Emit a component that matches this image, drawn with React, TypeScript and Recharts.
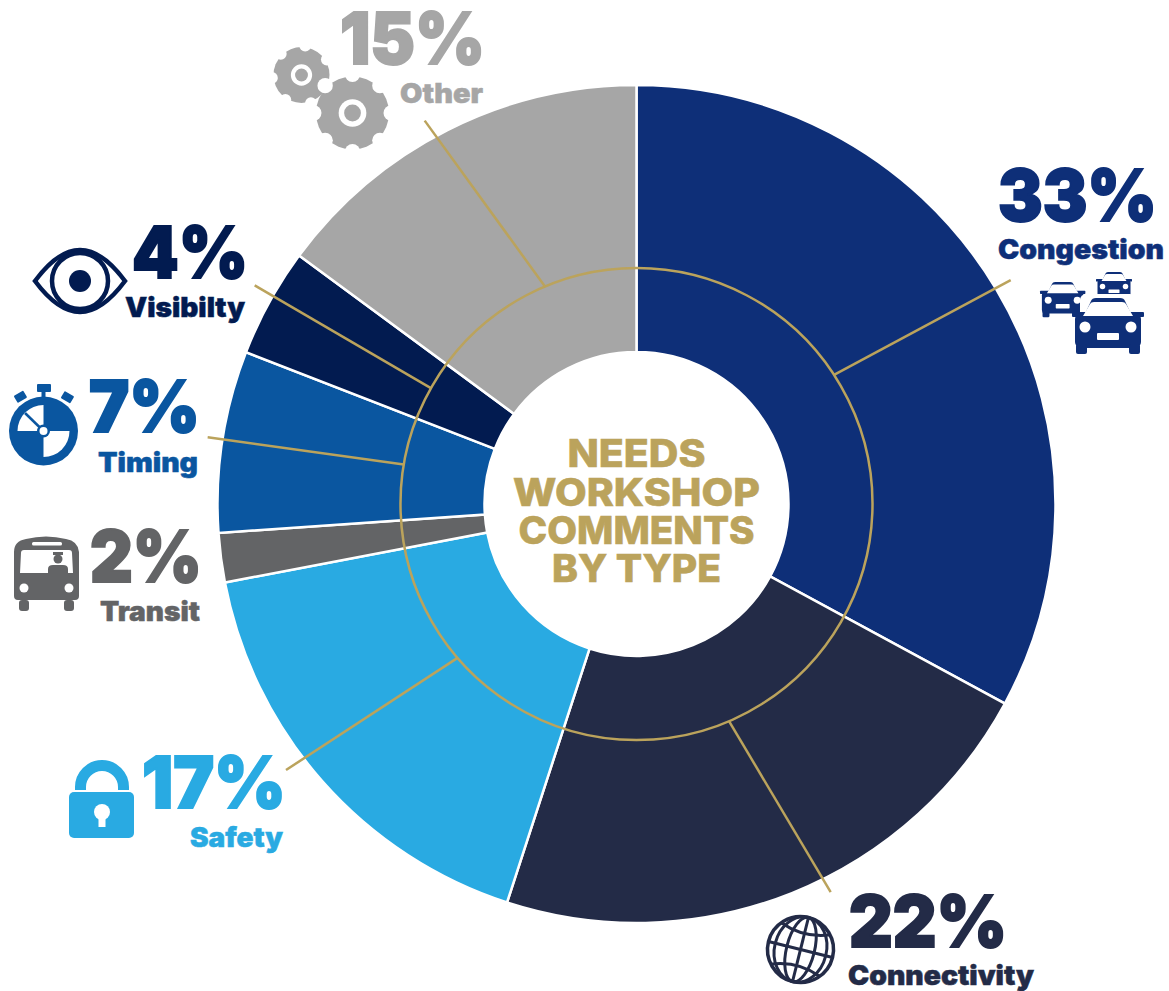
import { Pie, PieChart, Cell } from "recharts";

const categories = ["Congestion", "Connectivity", "Safety", "Transit", "Timing", "Visibilty", "Other"];
const pctLabels = ["33%", "22%", "17%", "2%", "7%", "4%", "15%"];
// slice sizes as measured off the wedges; the printed labels are rounded
const shares = [32.9, 22.1, 17.0, 1.9, 7.0, 4.2, 14.9];
const sliceColors = ["#0e2f78", "#232b47", "#29aae2", "#636466", "#0a56a0", "#021b50", "#a6a6a6"];
const centerLines = ["NEEDS", "WORKSHOP", "COMMENTS", "BY TYPE"];

const GOLD = "#bba35c";
const FONT = "Inter, 'Open Sans', sans-serif";
const CX = 636.5;
const CY = 504;
const RING_R = 236;

// text boxes are stretched to the measured widths because Montserrat isn't installed
const pctBoxes = [
  { x: 998, w: 159, base: 221 },
  { x: 849, w: 158, base: 947 },
  { x: 142, w: 144, base: 808 },
  { x: 90, w: 112, base: 582 },
  { x: 89, w: 111, base: 432 },
  { x: 132, w: 116, base: 278 },
  { x: 340, w: 145, base: 64 },
];
const nameBoxes = [
  { x: 998, w: 166, base: 259 },
  { x: 848, w: 186, base: 985 },
  { x: 190, w: 93, base: 847 },
  { x: 100, w: 100, base: 621 },
  { x: 98, w: 100, base: 472 },
  { x: 125, w: 120, base: 317 },
  { x: 400, w: 83, base: 103 },
];
// leader lines lean a little off the slice middle: [start deg, end deg, end radius]
const leaders: ([number, number, number] | null)[] = [
  [-2.4, -0.1, 436],
  [-1.3, -4.8, 434],
  [0.7, 4.2, 440],
  null,
  [1, 0.2, 434],
  [0.6, 1, 440],
  [4, -2.1, 438],
];

const data = categories.map((name, i) => ({ name, value: shares[i] }));
const ringData = [{ name: "ring", value: 1 }];

const polar = (r: number, clockDeg: number) => {
  const a = (clockDeg * Math.PI) / 180;
  return { x: CX + r * Math.sin(a), y: CY - r * Math.cos(a) };
};

function SliceLabel(props: any) {
  const { index, midAngle } = props;
  const color = sliceColors[index];
  const pct = pctBoxes[index];
  const nm = nameBoxes[index];
  const leader = leaders[index];
  const mid = 90 - midAngle;
  const from = leader && polar(RING_R, mid + leader[0]);
  const to = leader && polar(leader[2], mid + leader[1]);
  return (
    <g>
      {from && to && (
        <line x1={from.x} y1={from.y} x2={to.x} y2={to.y} stroke={GOLD} strokeWidth={2.5} />
      )}
      <text
        x={pct.x}
        y={pct.base}
        fill={color}
        stroke={color}
        strokeWidth={2}
        fontFamily={FONT}
        fontWeight={900}
        fontSize={72}
        textLength={pct.w}
        lengthAdjust="spacingAndGlyphs"
      >
        {pctLabels[index]}
      </text>
      <text
        x={nm.x}
        y={nm.base}
        fill={color}
        stroke={color}
        strokeWidth={0.5}
        fontFamily={FONT}
        fontWeight={900}
        fontSize={27}
        textLength={nm.w}
        lengthAdjust="spacingAndGlyphs"
      >
        {categories[index]}
      </text>
    </g>
  );
}

function Car({ x, y, s, halo }: { x: number; y: number; s: number; halo?: boolean }) {
  const c = sliceColors[0];
  return (
    <g transform={`translate(${x} ${y}) scale(${s})`}>
      {halo && <rect x={8} y={-4} width={56} height={24} rx={6} fill="#fff" />}
      <path d="M12 18 L19 3 Q20 0 24 0 H48 Q52 0 53 3 L60 18 Z" fill={c} />
      <rect x={0} y={14} width={72} height={5} rx={1} fill={c} />
      <rect x={3} y={15} width={66} height={35} rx={6} fill={c} />
      <rect x={4} y={46} width={11} height={10} rx={2} fill={c} />
      <rect x={57} y={46} width={11} height={10} rx={2} fill={c} />
      <path d="M11 18 L18 6 Q19 4 22 4 H50 Q53 4 54 6 L61 18 Z" fill="#fff" />
      <circle cx={13} cy={29} r={5.5} fill="#fff" />
      <circle cx={59} cy={29} r={5.5} fill="#fff" />
      <rect x={25} y={35} width={22} height={7} rx={1} fill="#fff" />
    </g>
  );
}

function Gear({ x, y, r, teeth, turn }: { x: number; y: number; r: number; teeth: number; turn: number }) {
  const c = sliceColors[6];
  const notches = Array.from({ length: teeth }, (_, i) => turn + (i * 360) / teeth);
  return (
    <g transform={`translate(${x} ${y})`}>
      <circle r={r} fill={c} />
      {notches.map((deg) => (
        <circle
          key={deg}
          cx={1.06 * r * Math.cos((deg * Math.PI) / 180)}
          cy={1.06 * r * Math.sin((deg * Math.PI) / 180)}
          r={0.21 * r}
          fill="#fff"
        />
      ))}
      <circle r={0.38 * r} fill="#fff" />
      <circle r={0.23 * r} fill={c} />
    </g>
  );
}

function Icons() {
  const eye = sliceColors[5];
  const watch = sliceColors[4];
  const bus = sliceColors[3];
  const lock = sliceColors[2];
  const globe = sliceColors[1];
  return (
    <g>
      {/* eye */}
      <g fill="none" stroke={eye} strokeWidth={4.5}>
        <path d="M35 281 Q58 250 80 250 Q102 250 125 281 Q102 312 80 312 Q58 312 35 281 Z" />
        <circle cx={80} cy={281} r={28} />
      </g>
      <circle cx={80} cy={281} r={11} fill={eye} />

      {/* stopwatch */}
      <circle cx={43.5} cy={431} r={34.5} fill={watch} />
      <rect x={37} y={384} width={14} height={8} rx={1} fill={watch} />
      <rect x={41.5} y={391} width={4} height={6} fill={watch} />
      <rect x={15} y={393} width={11} height={8} rx={1} fill={watch} transform="rotate(-30 20 397)" />
      <rect x={62} y={393} width={11} height={8} rx={1} fill={watch} transform="rotate(30 67 397)" />
      <path d="M43.5 431 V405 A26 26 0 0 0 17.5 431 Z" fill="#fff" />
      <path d="M43.5 431 V457 A26 26 0 0 0 69.5 431 Z" fill="#fff" />
      <line x1={43.5} y1={431} x2={25} y2={413} stroke={watch} strokeWidth={2.5} />
      <circle cx={43.5} cy={431} r={6.5} fill={watch} />
      <circle cx={43.5} cy={431} r={4} fill="#fff" />

      {/* bus */}
      <path d="M14 596 V552 Q14 541 26 539 Q46 534 66 539 Q78 541 79 552 V596 Q79 600 75 600 H18 Q14 600 14 596 Z" fill={bus} />
      <rect x={19} y={600} width={10} height={11} rx={3} fill={bus} />
      <rect x={64} y={600} width={10} height={11} rx={3} fill={bus} />
      <rect x={32} y={542} width={30} height={3.5} rx={1.5} fill="#fff" />
      <path d="M24 550 H69 Q72 550 72 553 L73 573 H20 L21 553 Q21 550 24 550 Z" fill="#fff" />
      <circle cx={24} cy={588} r={4.5} fill="#fff" />
      <circle cx={69} cy={588} r={4.5} fill="#fff" />
      <circle cx={58} cy={559} r={4.5} fill={bus} />
      <rect x={53} y={552} width={10} height={3} fill={bus} />
      <path d="M48 573 V569 Q48 565 53 565 H63 Q68 565 68 569 V573 Z" fill={bus} />

      {/* padlock */}
      <path d="M80.5 790 V787 A21.5 21.5 0 0 1 123.5 787 V790" fill="none" stroke={lock} strokeWidth={11} />
      <rect x={69} y={792} width={65} height={46} rx={5} fill={lock} />
      <circle cx={102} cy={812} r={8} fill="#fff" />
      <rect x={98.5} y={814} width={7} height={13} fill="#fff" />

      {/* globe */}
      <g transform="rotate(14 800.5 949.5)" fill="none" stroke={globe} strokeWidth={3}>
        <circle cx={800.5} cy={949.5} r={33} strokeWidth={3.5} />
        <ellipse cx={800.5} cy={949.5} rx={14} ry={33} />
        <ellipse cx={800.5} cy={949.5} rx={26} ry={33} />
        <line x1={800.5} y1={916.5} x2={800.5} y2={982.5} />
        <line x1={767.5} y1={949.5} x2={833.5} y2={949.5} />
        <path d="M775 928 Q800.5 938 826 928 M775 971 Q800.5 961 826 971" />
      </g>

      {/* gears */}
      <Gear x={301.5} y={75} r={28} teeth={7} turn={20} />
      <Gear x={352.5} y={113} r={36.5} teeth={8} turn={0} />

      {/* cars */}
      <Car x={1096} y={272} s={0.5} />
      <Car x={1040} y={282} s={0.63} />
      <Car x={1072} y={298} s={1} halo />
    </g>
  );
}

function CenterTitle() {
  const widths = [138, 247, 236, 169];
  const baselines = [467, 506, 544, 582];
  return (
    <g>
      {centerLines.map((line, i) => (
        <text
          key={line}
          x={CX}
          y={baselines[i]}
          textAnchor="middle"
          fill={GOLD}
          stroke={GOLD}
          strokeWidth={0.6}
          fontFamily={FONT}
          fontWeight={800}
          fontSize={38}
          textLength={widths[i]}
          lengthAdjust="spacingAndGlyphs"
        >
          {line}
        </text>
      ))}
    </g>
  );
}

export default function App() {
  return (
    <div style={{ position: "absolute", left: 0, top: 0, width: 1169, height: 991 }}>
      <PieChart width={1169} height={991} margin={{ top: 0, right: 0, bottom: 0, left: 0 }}>
        <Pie
          data={data}
          dataKey="value"
          nameKey="name"
          cx={CX}
          cy={CY}
          innerRadius={152}
          outerRadius={419}
          startAngle={90}
          endAngle={-270}
          stroke="#fff"
          strokeWidth={2.5}
          isAnimationActive={false}
          labelLine={false}
          label={SliceLabel}
        >
          {data.map((d, i) => (
            <Cell key={d.name} fill={sliceColors[i]} />
          ))}
        </Pie>
        <Pie
          data={ringData}
          dataKey="value"
          cx={CX}
          cy={CY}
          innerRadius={RING_R}
          outerRadius={RING_R}
          startAngle={90}
          endAngle={-270}
          fill="none"
          stroke={GOLD}
          strokeWidth={2.5}
          isAnimationActive={false}
        />
        <Icons />
        <CenterTitle />
      </PieChart>
    </div>
  );
}
